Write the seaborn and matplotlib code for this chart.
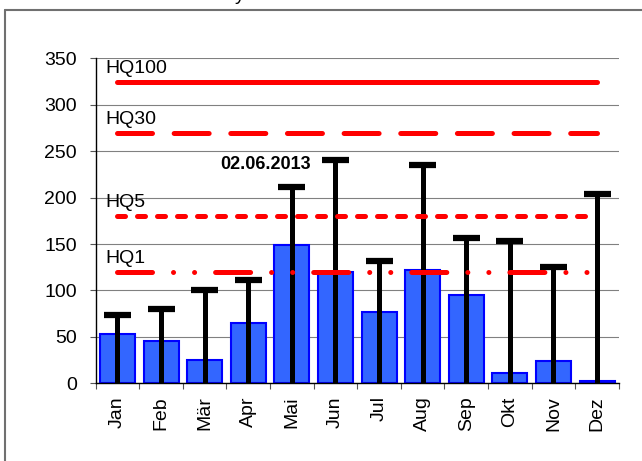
import matplotlib
matplotlib.use("Agg")
import matplotlib.pyplot as plt
import seaborn as sns
import numpy as np
from matplotlib.lines import Line2D

# Monatswerte (Mittel und Maximum) und Hochwasserkennwerte
months = ["Jan", "Feb", "Mär", "Apr", "Mai", "Jun", "Jul", "Aug", "Sep", "Okt", "Nov", "Dez"]
mean_flow = [53, 46, 25, 65, 149, 120, 77, 122, 95, 11, 24, 2.5]
max_flow = [73, 80, 100, 111, 211, 240, 132, 235, 157, 153, 125, 204]
hq_names = ["HQ100", "HQ30", "HQ5", "HQ1"]
hq_values = [325, 270, 180, 120]
peak_label = "02.06.2013"

sns.set_theme(style="white")
plt.rcParams["font.family"] = ["Liberation Sans", "DejaVu Sans"]
plt.rcParams["text.color"] = "black"
plt.rcParams["xtick.color"] = "black"
plt.rcParams["ytick.color"] = "black"

fig = plt.figure(figsize=(6.42, 4.61), dpi=100)
ax = fig.add_axes([0.149, 0.1686, 0.815, 0.7049])

# Balken
sns.barplot(x=months, y=mean_flow, color="#3366FF", edgecolor="#0000FF",
            linewidth=1.5, width=0.8, saturation=1, ax=ax, zorder=2)

# Maximalwerte als Fehlerbalken (von 0 bis Max)
xpos = np.arange(len(months))
ax.vlines(xpos, 0, max_flow, colors="black", linewidth=3.6, zorder=3)
ax.hlines(max_flow, xpos - 0.31, xpos + 0.31, colors="black", linewidth=4.5, zorder=3)

# HQ-Linien
styles = ["-", (0, (7, 4.33)), (0, (1.6, 2.4)), (0, (7, 4.2, 0.01, 4.2, 0.01, 4.2))]
for name, val, ls in zip(hq_names, hq_values, styles):
    ax.plot([0, len(months) - 1], [val, val], color="red", linewidth=3.6,
            linestyle=ls, dash_capstyle="round", solid_capstyle="round", zorder=4)
    ax.annotate(name, xy=(-0.27, val), xytext=(0, 3.5), textcoords="offset points",
                ha="left", va="bottom", fontsize=14, color="black")

# Datum des Maximums
imax = int(np.argmax(max_flow))
ax.annotate(peak_label, xy=(imax, max_flow[imax]), xytext=(-18, -3),
            textcoords="offset points", ha="right", va="center",
            fontsize=13, fontweight="bold", color="black")

# Achsen
ax.set_xlim(-0.5, len(months) - 0.5)
ax.set_ylim(0, 350)
ax.set_yticks(np.arange(0, 351, 50))
ax.yaxis.grid(True, color="#808080", linewidth=0.8)
ax.set_axisbelow(True)
ax.set_xlabel("")
ax.set_ylabel("")
for s in ["top", "right"]:
    ax.spines[s].set_visible(False)
for s in ["left", "bottom"]:
    ax.spines[s].set_color("black")
    ax.spines[s].set_linewidth(1.0)

ax.set_xticks(xpos)
ax.set_xticklabels(months, rotation=90, fontsize=14)
ax.set_xticks(np.arange(-0.5, len(months), 1), minor=True)
ax.tick_params(axis="x", which="major", length=0, pad=9.5, labelcolor="black")
ax.tick_params(axis="x", which="minor", length=4, width=0.8, color="#555555", direction="out", bottom=True)
ax.tick_params(axis="y", which="major", length=4.5, width=0.8, color="#555555", direction="out",
               left=True, pad=9, labelsize=14, labelcolor="black")

# Rahmen des Diagrammbereichs (abgeschnitten)
fig.add_artist(Line2D([5 / 642, 1], [1 - 10 / 461, 1 - 10 / 461], transform=fig.transFigure,
                      color="#707070", linewidth=1.5))
fig.add_artist(Line2D([5 / 642, 5 / 642], [0, 1 - 10 / 461], transform=fig.transFigure,
                      color="#707070", linewidth=1.5))
# abgeschnittener Titel oben (nur Unterlänge sichtbar)
fig.text(235 / 642, 1.0, "y", fontsize=14, va="baseline", color="black")

fig.savefig("out.png", dpi=100)
